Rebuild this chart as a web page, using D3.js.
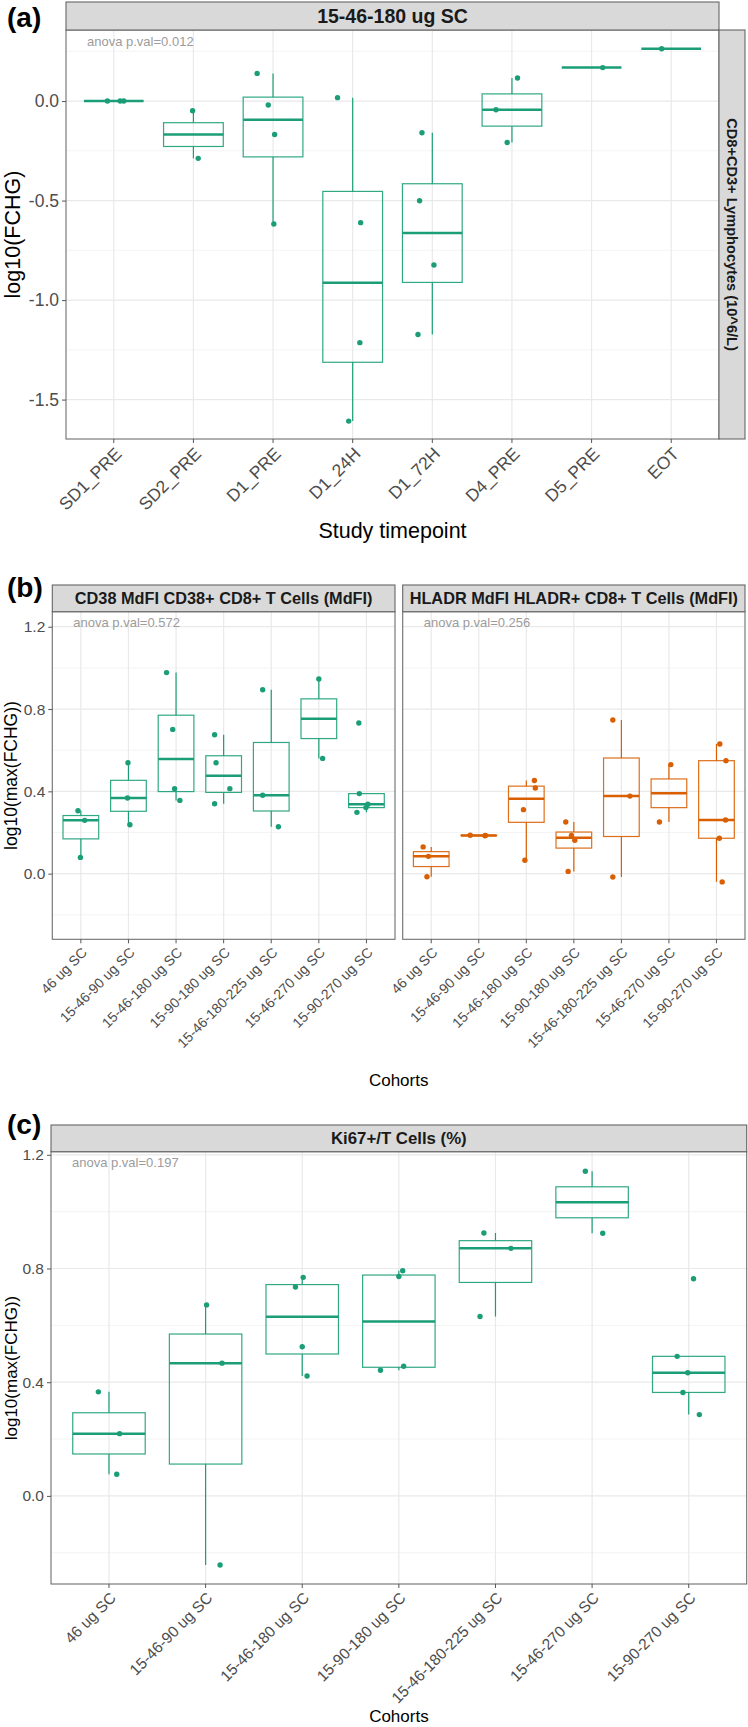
<!DOCTYPE html>
<html><head><meta charset="utf-8">
<script src="https://cdn.jsdelivr.net/npm/d3@7"></script>
<style>body{margin:0;background:#fff}svg{display:block}text{font-family:"Liberation Sans",Arial,Helvetica,sans-serif}</style>
</head><body><svg id="chart" width="748" height="1727"></svg>
<script>
// ---------- Data ----------
const timepoints = ["SD1_PRE","SD2_PRE","D1_PRE","D1_24H","D1_72H","D4_PRE","D5_PRE","EOT"];
const valuesA = [
  [0, 0, 0],
  [-0.049, -0.288],
  [0.139, -0.020, -0.168, -0.618],
  [0.017, -0.611, -1.214, -1.608],
  [-0.159, -0.501, -0.824, -1.173],
  [0.116, -0.044, -0.208],
  [0.168],
  [0.263]
];
const jitterA = [
  [-0.08, 0.08, 0.125],
  [-0.01, 0.06],
  [-0.20, -0.06, 0.02, 0.01],
  [-0.19, 0.10, 0.09, -0.05],
  [-0.13, -0.16, 0.02, -0.18],
  [0.07, -0.20, -0.06],
  [0.14],
  [-0.12]
];
const yTicksA = [-1.5, -1.0, -0.5, 0.0];
const yMinorA = [-1.75, -1.25, -0.75, -0.25, 0.25];
const yLimitsA = [-1.698, 0.357];
const stripA = "15-46-180 ug SC";
const rowStripA = "CD8+CD3+ Lymphocytes (10^6/L)";
const pvalA = "anova p.val=0.012";

const cohorts = ["46 ug SC","15-46-90 ug SC","15-46-180 ug SC","15-90-180 ug SC","15-46-180-225 ug SC","15-46-270 ug SC","15-90-270 ug SC"];
const valuesCD38 = [
  [0.306, 0.259, 0.079],
  [0.539, 0.368, 0.238],
  [0.977, 0.701, 0.413, 0.356],
  [0.675, 0.539, 0.413, 0.340],
  [0.894, 0.381, 0.228],
  [0.946, 0.560],
  [0.732, 0.389, 0.337, 0.321, 0.298]
];
const jitterCD38 = [
  [-0.06, 0.08, -0.01],
  [-0.01, -0.02, 0.03],
  [-0.20, -0.07, -0.03, 0.08],
  [-0.19, -0.16, 0.13, -0.19],
  [-0.18, -0.18, 0.15],
  [0.00, 0.08],
  [-0.16, -0.15, 0.03, -0.01, -0.20]
];
const valuesHLADR = [
  [0.130, 0.084, -0.015],
  [0.187, 0.184, 0.186],
  [0.453, 0.416, 0.311, 0.065],
  [0.251, 0.186, 0.162, 0.011],
  [0.747, 0.377, -0.016],
  [0.530, 0.251],
  [0.630, 0.549, 0.261, 0.172, -0.040]
];
const jitterHLADR = [
  [-0.17, -0.06, -0.09],
  [-0.18, 0.13, 0.14],
  [0.17, 0.19, -0.06, -0.03],
  [-0.17, -0.05, 0.02, -0.12],
  [-0.18, 0.18, -0.18],
  [0.04, -0.20],
  [0.07, 0.20, 0.19, 0.06, 0.12]
];
const yTicksB = [0.0, 0.4, 0.8, 1.2];
const yMinorB = [-0.2, 0.2, 0.6, 1.0];
const yLimitsB = [-0.319, 1.273];
const stripB = ["CD38 MdFI CD38+ CD8+ T Cells (MdFI)", "HLADR MdFI HLADR+ CD8+ T Cells (MdFI)"];
const pvalB = ["anova p.val=0.572", "anova p.val=0.256"];

const valuesKi67 = [
  [0.366, 0.219, 0.076],
  [0.672, 0.467, -0.243],
  [0.769, 0.735, 0.525, 0.422],
  [0.792, 0.772, 0.456, 0.442],
  [0.925, 0.871, 0.631],
  [1.142, 0.924],
  [0.764, 0.491, 0.433, 0.364, 0.286]
];
const jitterKi67 = [
  [-0.11, 0.11, 0.08],
  [0.01, 0.17, 0.15],
  [0.01, -0.07, 0.00, 0.05],
  [0.04, 0.00, 0.05, -0.19],
  [-0.12, 0.16, -0.16],
  [-0.07, 0.11],
  [0.05, -0.12, -0.01, -0.06, 0.11]
];
const yTicksC = [0.0, 0.4, 0.8, 1.2];
const yMinorC = [-0.2, 0.2, 0.6, 1.0];
const yLimitsC = [-0.310, 1.211];
const stripC = "Ki67+/T Cells (%)";
const pvalC = "anova p.val=0.197";

// ---------- Drawing ----------
const GREEN = "#1B9E77", ORANGE = "#D95F02";
const svg = d3.select("#chart");

function boxStats(v) {
  const s = v.slice().sort(d3.ascending);
  const q1 = d3.quantileSorted(s, 0.25), med = d3.quantileSorted(s, 0.5), q3 = d3.quantileSorted(s, 0.75);
  const iqr = q3 - q1;
  const lo = d3.min(s.filter(d => d >= q1 - 1.5 * iqr));
  const hi = d3.max(s.filter(d => d <= q3 + 1.5 * iqr));
  return {q1, med, q3, lo, hi};
}

function panel(o) {
  const x = d3.scalePoint().domain(o.cats).range([o.x0, o.x1]).padding(0.6);
  const y = d3.scaleLinear().domain(o.lim).range([o.y1, o.y0]);
  const g = svg.append("g");
  // grid
  o.minor.filter(v => v > o.lim[0] && v < o.lim[1]).forEach(v =>
    g.append("line").attr("x1", o.x0).attr("x2", o.x1).attr("y1", y(v)).attr("y2", y(v))
      .attr("stroke", "#F3F3F3").attr("stroke-width", 0.9));
  o.ticks.forEach(v =>
    g.append("line").attr("x1", o.x0).attr("x2", o.x1).attr("y1", y(v)).attr("y2", y(v))
      .attr("stroke", "#E9E9E9").attr("stroke-width", 1.2));
  o.cats.forEach(c =>
    g.append("line").attr("x1", x(c)).attr("x2", x(c)).attr("y1", o.y0).attr("y2", o.y1)
      .attr("stroke", "#E9E9E9").attr("stroke-width", 1.2));
  // boxes
  const bw = x.step() * 0.75;
  o.values.forEach((v, i) => {
    const s = boxStats(v), cx = x(o.cats[i]);
    g.append("line").attr("x1", cx).attr("x2", cx).attr("y1", y(s.hi)).attr("y2", y(s.q3))
      .attr("stroke", o.color).attr("stroke-width", 1.2);
    g.append("line").attr("x1", cx).attr("x2", cx).attr("y1", y(s.q1)).attr("y2", y(s.lo))
      .attr("stroke", o.color).attr("stroke-width", 1.2);
    g.append("rect").attr("x", cx - bw / 2).attr("y", y(s.q3)).attr("width", bw)
      .attr("height", Math.max(0, y(s.q1) - y(s.q3)))
      .attr("fill", "none").attr("stroke", o.color).attr("stroke-width", 1.2).attr("stroke-opacity", 0.9);
    g.append("line").attr("x1", cx - bw / 2).attr("x2", cx + bw / 2).attr("y1", y(s.med)).attr("y2", y(s.med))
      .attr("stroke", o.color).attr("stroke-width", 2.5);
  });
  // jittered points
  o.values.forEach((v, i) => v.forEach((d, j) =>
    g.append("circle").attr("cx", x(o.cats[i]) + o.jit[i][j] * x.step()).attr("cy", y(d))
      .attr("r", 2.7).attr("fill", o.color)));
  // border
  g.append("rect").attr("x", o.x0).attr("y", o.y0).attr("width", o.x1 - o.x0).attr("height", o.y1 - o.y0)
    .attr("fill", "none").attr("stroke", "#6E6E6E").attr("stroke-width", 1.1);
  // strip
  g.append("rect").attr("x", o.x0).attr("y", o.sy0).attr("width", o.x1 - o.x0).attr("height", o.y0 - o.sy0)
    .attr("fill", "#D9D9D9").attr("stroke", "#666").attr("stroke-width", 1.1);
  g.append("text").attr("x", (o.x0 + o.x1) / 2).attr("y", (o.sy0 + o.y0) / 2).attr("dy", "0.36em")
    .attr("text-anchor", "middle").attr("font-weight", "bold").attr("font-size", o.stripFs)
    .attr("fill", "#1A1A1A").text(o.strip);
  // p-value annotation
  g.append("text").attr("x", o.x0 + 21).attr("y", o.y0 + 15.5).attr("font-size", 13)
    .attr("fill", "#9C9C9C").text(o.pval);
  // y axis
  if (o.yAxis) {
    const ax = g.append("g").attr("transform", `translate(${o.x0},0)`)
      .call(d3.axisLeft(y).tickValues(o.ticks).tickFormat(d => d.toFixed(1)).tickSize(4).tickPadding(3));
    ax.select(".domain").remove();
    ax.selectAll("line").attr("stroke", "#555");
    ax.selectAll("text").attr("font-size", o.yFs).attr("fill", "#4D4D4D")
      .style("font-family", '"Liberation Sans",Arial,sans-serif');
  }
  // x ticks & labels
  o.cats.forEach(c => {
    g.append("line").attr("x1", x(c)).attr("x2", x(c)).attr("y1", o.y1).attr("y2", o.y1 + 4)
      .attr("stroke", "#555");
    g.append("text").attr("transform", `translate(${x(c)},${o.y1 + 7}) rotate(-45)`)
      .attr("text-anchor", "end").attr("dy", "0.72em").attr("font-size", o.xFs)
      .attr("fill", "#4D4D4D").text(c);
  });
  return {x, y};
}

// ----- Panel (a) -----
panel({cats: timepoints, values: valuesA, jit: jitterA, color: GREEN,
  x0: 66, x1: 719, y0: 30, y1: 439, sy0: 2, lim: yLimitsA, ticks: yTicksA, minor: yMinorA,
  strip: stripA, stripFs: 19.5, pval: pvalA, yAxis: true, yFs: 17.5, xFs: 17.5});
svg.append("rect").attr("x", 719).attr("y", 30).attr("width", 26).attr("height", 409)
  .attr("fill", "#D9D9D9").attr("stroke", "#666").attr("stroke-width", 1.1);
svg.append("text").attr("transform", "translate(732,234.5) rotate(90)").attr("dy", "0.36em")
  .attr("text-anchor", "middle").attr("font-weight", "bold").attr("font-size", 14.6)
  .attr("fill", "#1A1A1A").text(rowStripA);
svg.append("text").attr("transform", "translate(20,234.5) rotate(-90)").attr("text-anchor", "middle")
  .attr("font-size", 21.5).attr("fill", "#000").text("log10(FCHG)");
svg.append("text").attr("x", 392.5).attr("y", 538).attr("text-anchor", "middle")
  .attr("font-size", 21.5).attr("fill", "#000").text("Study timepoint");
svg.append("text").attr("x", 7).attr("y", 27).attr("font-size", 28).attr("font-weight", "bold").text("(a)");

// ----- Panel (b) -----
panel({cats: cohorts, values: valuesCD38, jit: jitterCD38, color: GREEN,
  x0: 52.3, x1: 395, y0: 611.7, y1: 939.3, sy0: 585, lim: yLimitsB, ticks: yTicksB, minor: yMinorB,
  strip: stripB[0], stripFs: 16.3, pval: pvalB[0], yAxis: true, yFs: 15.5, xFs: 14});
panel({cats: cohorts, values: valuesHLADR, jit: jitterHLADR, color: ORANGE,
  x0: 402.7, x1: 745, y0: 611.7, y1: 939.3, sy0: 585, lim: yLimitsB, ticks: yTicksB, minor: yMinorB,
  strip: stripB[1], stripFs: 16.3, pval: pvalB[1], yAxis: false, yFs: 15.5, xFs: 14});
svg.append("text").attr("transform", "translate(16.5,775.5) rotate(-90)").attr("text-anchor", "middle")
  .attr("font-size", 17.5).attr("fill", "#000").text("log10(max(FCHG))");
svg.append("text").attr("x", 398.7).attr("y", 1086).attr("text-anchor", "middle")
  .attr("font-size", 17).attr("fill", "#000").text("Cohorts");
svg.append("text").attr("x", 7).attr("y", 597).attr("font-size", 28).attr("font-weight", "bold").text("(b)");

// ----- Panel (c) -----
panel({cats: cohorts, values: valuesKi67, jit: jitterKi67, color: GREEN,
  x0: 51, x1: 746.7, y0: 1151.7, y1: 1584, sy0: 1125, lim: yLimitsC, ticks: yTicksC, minor: yMinorC,
  strip: stripC, stripFs: 16.8, pval: pvalC, yAxis: true, yFs: 15.5, xFs: 15.5});
svg.append("text").attr("transform", "translate(17,1368) rotate(-90)").attr("text-anchor", "middle")
  .attr("font-size", 17).attr("fill", "#000").text("log10(max(FCHG))");
svg.append("text").attr("x", 398.9).attr("y", 1722).attr("text-anchor", "middle")
  .attr("font-size", 17).attr("fill", "#000").text("Cohorts");
svg.append("text").attr("x", 7).attr("y", 1134).attr("font-size", 28).attr("font-weight", "bold").text("(c)");
</script></body></html>
